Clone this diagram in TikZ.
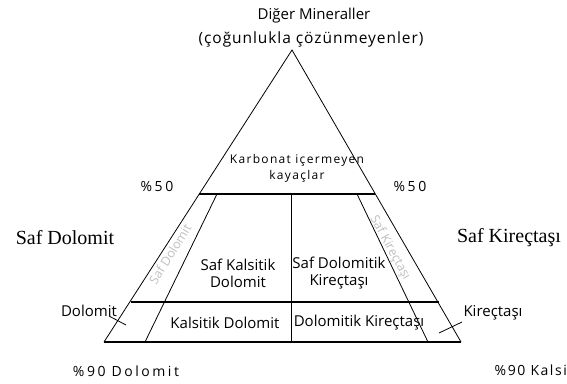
\documentclass[tikz,border=0pt]{standalone}
\usepackage{fontspec}
\setmainfont{Liberation Serif}
\newfontfamily\labfont{Open Sans}
\newfontfamily\spfont[LetterSpace=18]{Open Sans}
\newfontfamily\spfontb[LetterSpace=11]{Open Sans}
\newfontfamily\spfontc[LetterSpace=6]{Open Sans}
\begin{document}
\begin{tikzpicture}[x=1pt,y=-1pt,
  edge/.style={line width=0.8pt},
  thick edge/.style={line width=1.4pt},
  lab/.style={font=\labfont\fontsize{15}{17}\selectfont, inner sep=0pt, align=center},
  splab/.style={font=\spfont\fontsize{14}{18}\selectfont, inner sep=0pt, align=center},
  serif/.style={font=\fontsize{20}{22}\selectfont, inner sep=0pt},
  faded/.style={font=\labfont\fontsize{12.5}{13}\selectfont, text=gray!50, inner sep=0pt}]
\useasboundingbox (0,0) rectangle (567,383);
% corners
\coordinate (A) at (292,50);
\coordinate (BL) at (104,342);
\coordinate (BR) at (461,342);
\coordinate (L50) at (199,194);
\coordinate (R50) at (375,194);
\coordinate (LD) at (131,302);
\coordinate (RD) at (439,302);
\coordinate (IL1) at (217,194);
\coordinate (IL2) at (145,342);
\coordinate (IR1) at (357,194);
\coordinate (IR2) at (428,342);
\coordinate (M1) at (291,194);
\coordinate (M2) at (291,342);
% outline
\draw[edge] (BL) -- (A) -- (BR);
\draw[thick edge] (BL) -- (BR);
\draw[thick edge] (L50) -- (R50);
\draw[thick edge] (LD) -- (RD);
\draw[edge] (IL1) -- (IL2);
\draw[edge] (IR1) -- (IR2);
\draw[edge] (M1) -- (M2);
% ticks
\coordinate (TD1) at (109,316);
\coordinate (TD2) at (126,325);
\coordinate (TK1) at (439,333);
\coordinate (TK2) at (462,322);
\draw[edge] (TD1) -- (TD2);
\draw[edge] (TK1) -- (TK2);
% labels
\node[lab] (top1) at (314,16) {Diğer Mineraller};
\node[lab,font=\spfontc\fontsize{15.5}{17}\selectfont] (top2) at (311,39) {(çoğunlukla çözünmeyenler)};
\node[splab,font=\spfontb\fontsize{12}{16}\selectfont] (kic) at (297,168) {Karbonat içermeyen\\kayaçlar};
\node[splab] (p50l) at (157,186) {\%50};
\node[splab] (p50r) at (410,186) {\%50};
\node[serif] (sd) at (65,238) {Saf Dolomit};
\node[serif] (sk) at (509,238) {Saf Kireçtaşı};
\node[lab] (skd) at (238,273) {Saf Kalsitik\\Dolomit};
\node[lab] (sdk) at (339,273) {Saf Dolomitik\\Kireçtaşı};
\node[lab] (kd) at (225,323) {Kalsitik Dolomit};
\node[lab] (dk) at (359,323) {Dolomitik Kireçtaşı};
\node[lab] (dol) at (89,311) {Dolomit};
\node[lab] (kir) at (493,313) {Kireçtaşı};
\node[splab] (d90) at (126,371) {\%90 Dolomit};
\node[splab,font=\spfontb\fontsize{14}{18}\selectfont,anchor=east] (k90) at (567,370) {\%90 Kalsi};
\node[faded,rotate=58] (fsd) at (170,254) {Saf Dolomit};
\node[faded,rotate=-61] (fsk) at (390,248) {Saf Kireçtaşı};
\end{tikzpicture}
\end{document}
